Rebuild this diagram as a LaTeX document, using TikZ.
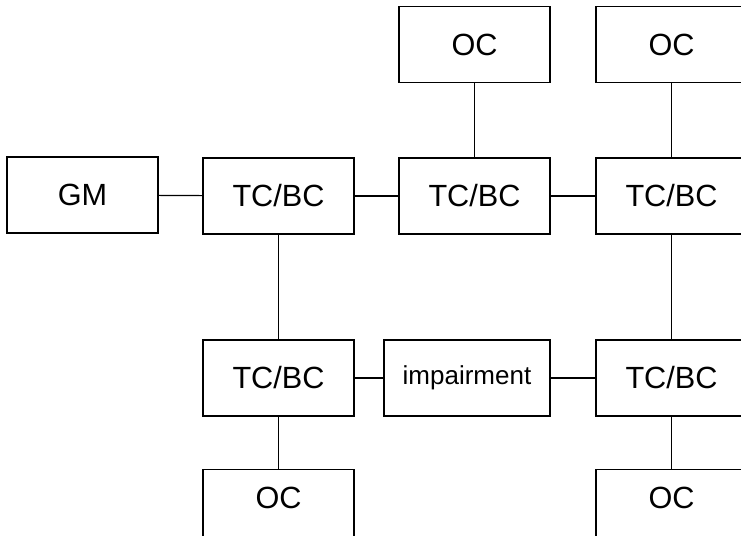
\documentclass[tikz,border=0pt]{standalone}
\usepackage{fontspec}
\setmainfont{Liberation Sans}
\tikzset{every picture/.style={line width=0.75pt}}
\tikzset{
  unitbox/.style={draw, line width=1.1pt, minimum width=113.25pt, minimum height=57pt, inner sep=0pt, font=\fontsize{23}{27}\selectfont},
  impbox/.style={unitbox, minimum width=124.5pt, font=\fontsize{19.5}{23}\selectfont},
  cutbox/.style={unitbox, minimum height=0pt, anchor=north, inner ysep=12.5pt, text height=16.5pt, text depth=60pt},
  link/.style={line width=0.9pt}
}
\begin{document}
\begin{tikzpicture}[x=0.75pt,y=0.75pt,yscale=-1,xscale=1]
	\useasboundingbox (0,0) rectangle (741,535);
	\clip (0,0) rectangle (741,535);

	% Top row
	\node [unitbox] (ocA) at (474.5,44.5) {OC};
	\node [unitbox] (ocB) at (671.5,44.5) {OC};
	% Middle row
	\node [unitbox] (gm) at (82.5,195) {GM};
	\node [unitbox] (tcA) at (278.5,196) {TC/BC};
	\node [unitbox] (tcB) at (474.5,196) {TC/BC};
	\node [unitbox] (tcC) at (671.5,196) {TC/BC};
	% Lower row
	\node [unitbox] (tcD) at (278.5,378) {TC/BC};
	\node [impbox] (imp) at (467,378) {impairment};
	\node [unitbox] (tcE) at (671.5,378) {TC/BC};
	% Bottom row (cut by the frame)
	\node [cutbox] (ocC) at (278.5,469) {OC};
	\node [cutbox] (ocD) at (671.5,469) {OC};

	% Links
	\draw [link] (gm) -- (tcA);
	\draw [link] (tcA) -- (tcB);
	\draw [link] (tcB) -- (tcC);
	\draw [link] (ocA) -- (tcB);
	\draw [link] (ocB) -- (tcC);
	\draw [link] (tcA) -- (tcD);
	\draw [link] (tcC) -- (tcE);
	\draw [link] (tcD) -- (imp);
	\draw [link] (imp) -- (tcE);
	\draw [link] (tcD.south) -- (ocC.north);
	\draw [link] (tcE.south) -- (ocD.north);

\end{tikzpicture}
\end{document}
